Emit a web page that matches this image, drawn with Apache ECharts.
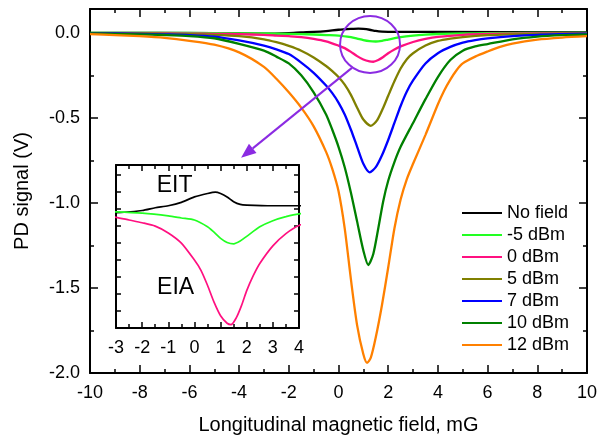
<!DOCTYPE html>
<html>
<head>
<meta charset="utf-8">
<script src="https://cdn.jsdelivr.net/npm/echarts@6/dist/echarts.min.js"></script>
<style>
  html, body { margin: 0; padding: 0; background: #fff; }
  #main { width: 598px; height: 441px; }
</style>
</head>
<body>
<div id="main"></div>
<script>
// field values (mG) and PD signal (V) for each trace
const xNoField = [-10, -5, -3, -2, -1.5, -1, -0.5, 0, 0.5, 0.8, 1.0, 1.25, 1.5, 1.75, 2, 3, 4, 10]
const noField = [0, -0.002, -0.005, -0.002, 0.002, 0.005, 0.010, 0.018, 0.023, 0.025, 0.023, 0.018, 0.011, 0.007, 0.006, 0.005, 0.005, 0.003]

const xM5 = [-10, -6, -4, -3, -2, -1, -0.5, 0, 0.5, 0.75, 1, 1.25, 1.5, 1.75, 2, 2.5, 3, 3.5, 4, 5, 6, 10]
const m5dBm = [0, -0.001, -0.003, -0.004, -0.006, -0.010, -0.013, -0.016, -0.026, -0.034, -0.043, -0.049, -0.051, -0.047, -0.040, -0.026, -0.017, -0.011, -0.007, -0.004, -0.002, 0]

const x0 = [-10, -8, -6, -5, -4, -3, -2.5, -2, -1.5, -1, -0.5, 0, 0.25, 0.5, 0.75, 1, 1.25, 1.4, 1.6, 1.8, 2, 2.25, 2.5, 3, 3.5, 4, 5, 6, 8, 10]
const p0dBm = [-0.002, -0.003, -0.005, -0.006, -0.008, -0.012, -0.016, -0.020, -0.025, -0.035, -0.050, -0.075, -0.090, -0.112, -0.137, -0.157, -0.168, -0.170, -0.160, -0.142, -0.120, -0.098, -0.080, -0.054, -0.036, -0.024, -0.012, -0.007, -0.004, -0.002]

const x5 = [-10, -8, -6, -5, -4, -3, -2.5, -2, -1.5, -1, -0.5, -0.25, 0, 0.25, 0.5, 0.75, 1, 1.3, 1.55, 1.8, 2, 2.25, 2.5, 2.75, 3, 3.5, 4, 4.5, 5, 6, 7, 8, 10]
const p5dBm = [-0.002, -0.004, -0.008, -0.012, -0.020, -0.038, -0.055, -0.077, -0.105, -0.145, -0.195, -0.225, -0.260, -0.305, -0.365, -0.440, -0.510, -0.547, -0.515, -0.440, -0.370, -0.285, -0.210, -0.155, -0.120, -0.075, -0.048, -0.034, -0.025, -0.014, -0.009, -0.006, -0.003]

const x7 = [-10, -9, -8, -7, -6, -5, -4, -3, -2.5, -2, -1.5, -1, -0.5, -0.25, 0, 0.25, 0.5, 0.75, 1, 1.25, 1.5, 1.75, 2, 2.25, 2.5, 2.75, 3, 3.5, 4, 4.5, 5, 5.5, 6, 7, 8, 9, 10]
const p7dBm = [-0.003, -0.004, -0.006, -0.009, -0.013, -0.022, -0.045, -0.075, -0.097, -0.125, -0.175, -0.235, -0.310, -0.355, -0.410, -0.480, -0.570, -0.670, -0.770, -0.820, -0.790, -0.720, -0.630, -0.530, -0.430, -0.345, -0.280, -0.180, -0.120, -0.083, -0.058, -0.043, -0.033, -0.020, -0.012, -0.008, -0.005]

const x10 = [-10, -9, -8, -7, -6, -5, -4, -3, -2.5, -2, -1.5, -1, -0.5, -0.25, 0, 0.25, 0.5, 0.75, 1, 1.2, 1.4, 1.6, 1.8, 2, 2.25, 2.5, 3, 3.5, 4, 4.5, 5, 5.5, 6, 7, 8, 9, 10]
const p10dBm = [-0.004, -0.006, -0.009, -0.013, -0.019, -0.032, -0.065, -0.105, -0.140, -0.180, -0.250, -0.350, -0.480, -0.570, -0.670, -0.790, -0.940, -1.110, -1.280, -1.365, -1.300, -1.150, -0.990, -0.870, -0.760, -0.670, -0.530, -0.390, -0.260, -0.160, -0.105, -0.080, -0.066, -0.038, -0.022, -0.014, -0.010]

const x12 = [-10, -9, -8, -7, -6, -5, -4, -3, -2.5, -2, -1.5, -1, -0.5, -0.25, 0, 0.25, 0.5, 0.75, 1, 1.15, 1.3, 1.5, 1.75, 2, 2.25, 2.5, 2.75, 3, 3.5, 4, 4.25, 4.5, 4.75, 5, 5.5, 6, 6.5, 7, 8, 9, 10]
const p12dBm = [-0.008, -0.013, -0.020, -0.030, -0.047, -0.070, -0.115, -0.200, -0.270, -0.350, -0.440, -0.550, -0.700, -0.800, -0.930, -1.150, -1.450, -1.720, -1.890, -1.940, -1.910, -1.790, -1.600, -1.380, -1.150, -0.980, -0.860, -0.770, -0.600, -0.420, -0.340, -0.275, -0.220, -0.180, -0.140, -0.110, -0.083, -0.063, -0.040, -0.028, -0.020]

const names = ['No field', '-5 dBm', '0 dBm', '5 dBm', '7 dBm', '10 dBm', '12 dBm']
const colors = ['#000000', '#22ff22', '#ff1080', '#808000', '#0000ff', '#008000', '#ff8000']
const traces = [[xNoField, noField], [xM5, m5dBm], [x0, p0dBm], [x5, p5dBm], [x7, p7dBm], [x10, p10dBm], [x12, p12dBm]]

const mainXTicks = { min: -10, max: 10, interval: 2 }
const mainYTicks = { min: -2.0, max: 0.14, interval: 0.5, minor: 0.25 }
const insetXTicks = { min: -3, max: 4, interval: 1 }
const insetYTicks = { min: -0.175, max: 0.065, interval: 0.025 }
const insetTraces = [0, 1, 2]

const font = 'Liberation Sans, Arial, Helvetica, sans-serif'

function pairs(xs, ys) {
  return xs.map((x, i) => [x, ys[i]])
}

function xAx(grid, t, pos, opts) {
  return Object.assign({
    type: 'value', gridIndex: grid, position: pos,
    min: t.min, max: t.max, interval: t.interval,
    axisLine: { onZero: false, lineStyle: { color: '#000', width: 2 } },
    axisTick: { inside: true, length: 8, lineStyle: { color: '#000', width: 1.5 } },
    minorTick: { show: true, splitNumber: 2, length: 4, lineStyle: { color: '#000', width: 1.5 } },
    axisLabel: { show: false },
    splitLine: { show: false }
  }, opts)
}

function yAx(grid, min, max, interval, pos, tickLen, showLine, opts) {
  return Object.assign({
    type: 'value', gridIndex: grid, position: pos,
    min: min, max: max, interval: interval,
    axisLine: { show: showLine, onZero: false, lineStyle: { color: '#000', width: 2 } },
    axisTick: { inside: true, length: tickLen, lineStyle: { color: '#000', width: 1.5 } },
    axisLabel: { show: false },
    splitLine: { show: false }
  }, opts)
}

const myChart = echarts.init(document.getElementById('main'))

const option = {
  animation: false,
  backgroundColor: '#fff',
  textStyle: { fontFamily: font },
  grid: [
    { left: 90, top: 9, width: 497, height: 364, outerBoundsMode: 'none' },
    { left: 116, top: 165, width: 183, height: 163, show: true, backgroundColor: '#fff', borderWidth: 0, outerBoundsMode: 'none' }
  ],
  xAxis: [
    xAx(0, mainXTicks, 'bottom', {
      axisLabel: { show: true, color: '#000', fontSize: 18, fontFamily: font, margin: 11 },
      name: 'Longitudinal magnetic field, mG', nameLocation: 'middle', nameGap: 42,
      nameMoveOverlap: false,
      nameTextStyle: { color: '#000', fontSize: 20, fontFamily: font }
    }),
    xAx(0, mainXTicks, 'top', {}),
    xAx(1, insetXTicks, 'bottom', {
      axisTick: { inside: true, length: 6, lineStyle: { color: '#000', width: 1.5 } },
      minorTick: { show: true, splitNumber: 2, length: 4, lineStyle: { color: '#000', width: 1.5 } },
      axisLabel: { show: true, color: '#000', fontSize: 18, fontFamily: font, margin: 11 }
    }),
    xAx(1, insetXTicks, 'top', {
      axisTick: { inside: true, length: 6, lineStyle: { color: '#000', width: 1.5 } },
      minorTick: { show: true, splitNumber: 2, length: 4, lineStyle: { color: '#000', width: 1.5 } }
    })
  ],
  yAxis: [
    yAx(0, mainYTicks.min, mainYTicks.max, mainYTicks.interval, 'left', 8, true, {
      axisLabel: {
        show: true, color: '#000', fontSize: 18, fontFamily: font, margin: 10,
        showMaxLabel: false,
        formatter: v => v.toFixed(1)
      },
      name: 'PD signal (V)', nameLocation: 'middle', nameGap: 58,
      nameMoveOverlap: false,
      nameTextStyle: { color: '#000', fontSize: 20, fontFamily: font }
    }),
    yAx(0, mainYTicks.min, mainYTicks.max, mainYTicks.minor, 'left', 4, false, {}),
    yAx(0, mainYTicks.min, mainYTicks.max, mainYTicks.interval, 'right', 8, true, {}),
    yAx(0, mainYTicks.min, mainYTicks.max, mainYTicks.minor, 'right', 4, false, {}),
    yAx(1, insetYTicks.min, insetYTicks.max, insetYTicks.interval, 'left', 5, true, {}),
    yAx(1, insetYTicks.min, insetYTicks.max, insetYTicks.interval, 'right', 5, true, {})
  ],
  legend: {
    data: names,
    orient: 'vertical',
    left: 457,
    top: 199,
    icon: 'rect',
    itemWidth: 40,
    itemHeight: 2,
    itemGap: 4,
    selectedMode: false,
    textStyle: { color: '#000', fontSize: 18, fontFamily: font, lineHeight: 18 }
  },
  series: [
    ...traces.map((t, i) => ({
      type: 'line',
      name: names[i],
      xAxisIndex: 0,
      yAxisIndex: 0,
      data: pairs(t[0], t[1]),
      showSymbol: false,
      smooth: 0.25,
      color: colors[i],
      lineStyle: { width: 2.3, color: colors[i] },
      z: 3 + i
    })),
    ...insetTraces.map(i => ({
      type: 'line',
      name: 'inset ' + names[i],
      xAxisIndex: 2,
      yAxisIndex: 4,
      data: pairs(traces[i][0], traces[i][1]),
      showSymbol: false,
      smooth: 0.25,
      color: colors[i],
      lineStyle: { width: 1.7, color: colors[i] },
      z: 20 + i
    }))
  ]
}
myChart.setOption(option)

// annotations: circle around the small dips, arrow to the inset, inset labels
const toMain = p => myChart.convertToPixel({ xAxisIndex: 0, yAxisIndex: 0 }, p)
const toInset = p => myChart.convertToPixel({ xAxisIndex: 2, yAxisIndex: 4 }, p)
const c = toMain([1.27, -0.068])
const a0 = toMain([0.54, -0.206])
const a1 = toMain([-3.92, -0.735])
const dx = a1[0] - a0[0], dy = a1[1] - a0[1]
const len = Math.sqrt(dx * dx + dy * dy)
const ux = dx / len, uy = dy / len
const headL = 15, headW = 6
const bx = a1[0] - ux * headL, by = a1[1] - uy * headL
const eit = toInset([-0.76, 0.034])
const eia = toInset([-0.72, -0.116])
const purple = '#8b2be2'

myChart.setOption({
  graphic: [
    { type: 'ellipse', shape: { cx: c[0], cy: c[1], rx: 30, ry: 28.5 }, style: { fill: 'none', stroke: purple, lineWidth: 2 }, z: 50 },
    { type: 'line', shape: { x1: a0[0], y1: a0[1], x2: bx, y2: by }, style: { stroke: purple, lineWidth: 2 }, z: 50 },
    { type: 'polygon', shape: { points: [[a1[0], a1[1]], [bx - uy * headW, by + ux * headW], [bx + uy * headW, by - ux * headW]] }, style: { fill: purple }, z: 50 },
    { type: 'text', x: eit[0], y: eit[1], style: { text: 'EIT', fill: '#000', fontSize: 23, fontFamily: font, align: 'center', verticalAlign: 'middle' }, z: 50 },
    { type: 'text', x: eia[0], y: eia[1], style: { text: 'EIA', fill: '#000', fontSize: 23, fontFamily: font, align: 'center', verticalAlign: 'middle' }, z: 50 }
  ]
})

window.onresize = function () {
  myChart.resize()
}
</script>
</body>
</html>
